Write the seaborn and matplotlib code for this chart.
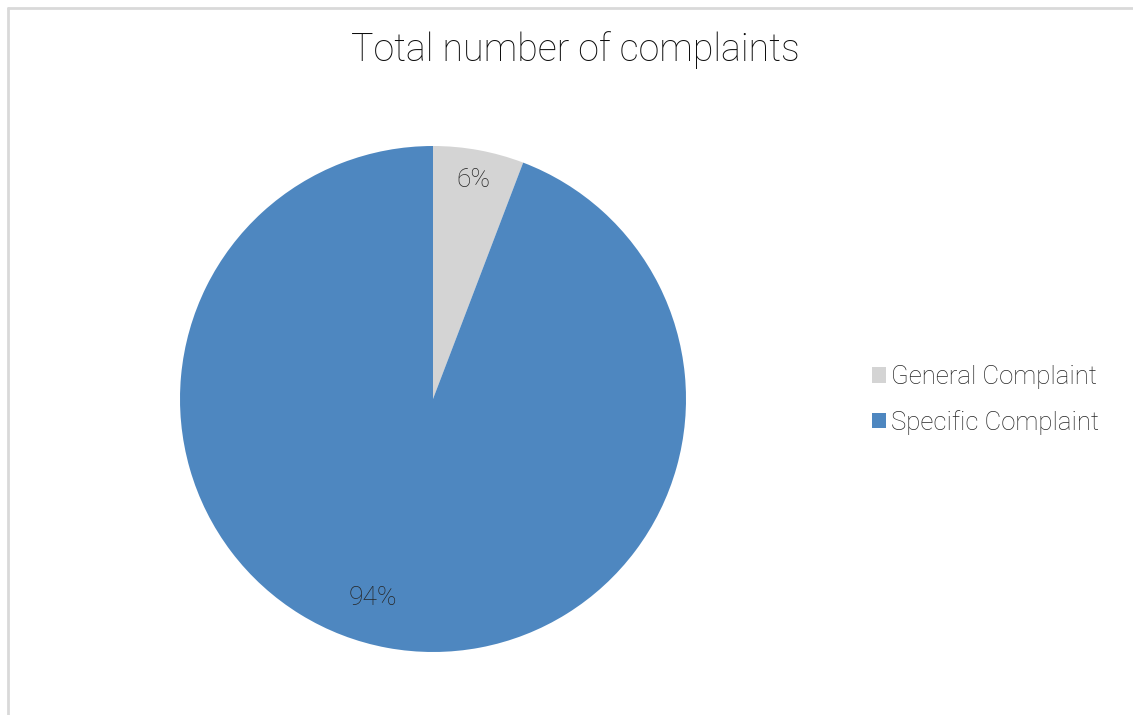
import matplotlib
matplotlib.use("Agg")
import matplotlib.pyplot as plt
import seaborn as sns
from matplotlib.patches import Patch
from matplotlib.lines import Line2D

categories = ["General Complaint", "Specific Complaint"]
values = [5.8, 94.2]
colors = ["#D4D4D4", "#4E87C0"]
title = "Total number of complaints"

sns.set_theme(style="white")
plt.rcParams['font.family'] = ['Roboto', 'DejaVu Sans']

W, H = 1133, 715
fig = plt.figure(figsize=(W / 100, H / 100), dpi=100)
fig.patch.set_facecolor("white")

cx, cy, r = 433, 399, 253
ax = fig.add_axes([(cx - r) / W, (H - cy - r) / H, 2 * r / W, 2 * r / H])
wedges, texts, autotexts = ax.pie(
    values, colors=colors, startangle=90, counterclock=False,
    autopct=lambda p: f"{p:.0f}%", pctdistance=0.88, radius=1,
    wedgeprops=dict(linewidth=0),
    textprops=dict(fontsize=19, color="#262626", fontweight="light"))
# Excel-style placement of the large slice label
autotexts[1].set_position((-0.237, -0.787))
ax.set_xlim(-1, 1)
ax.set_ylim(-1, 1)
ax.set_aspect("equal")
ax.axis("off")

fig.text(575 / W, 1 - 50 / H, title, ha="center", va="center",
         fontsize=27, color="#0D0D0D", fontweight="light")

handles = [Patch(facecolor=c, edgecolor="none") for c in colors]
fig.legend(handles, categories, loc="center left", bbox_to_anchor=(849 / W, 1 - 400 / H),
           frameon=False, handlelength=0.55, handleheight=0.55,
           handletextpad=0.2, labelspacing=0.8, labelcolor="#262626",
           prop=dict(size=18.5, weight="light"))

# frame lines (top and left)
fig.add_artist(Line2D([7.5 / W, 1], [1 - 7.5 / H, 1 - 7.5 / H], color="#D9D9D9", lw=2, transform=fig.transFigure))
fig.add_artist(Line2D([7.5 / W, 7.5 / W], [0, 1 - 7.5 / H], color="#D9D9D9", lw=2, transform=fig.transFigure))

fig.savefig("out.png", dpi=100, facecolor="white")
